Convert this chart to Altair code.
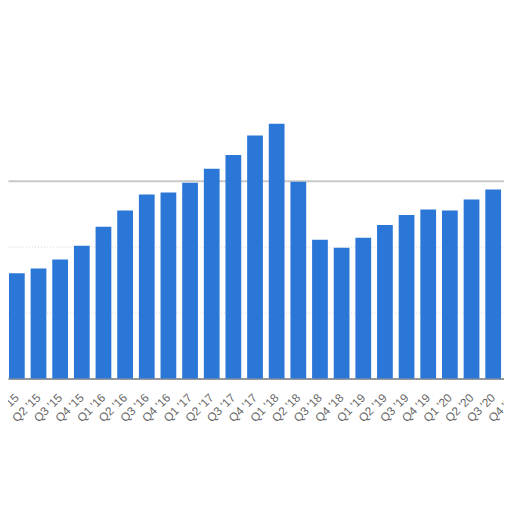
import altair as alt
import pandas as pd

quarters = ["Q1 '15", "Q2 '15", "Q3 '15", "Q4 '15",
            "Q1 '16", "Q2 '16", "Q3 '16", "Q4 '16",
            "Q1 '17", "Q2 '17", "Q3 '17", "Q4 '17",
            "Q1 '18", "Q2 '18", "Q3 '18", "Q4 '18",
            "Q1 '19", "Q2 '19", "Q3 '19", "Q4 '19",
            "Q1 '20", "Q2 '20", "Q3 '20", "Q4 '20"]
values = [31.9, 33.4, 36.1, 40.3,
          46.0, 51.0, 55.8, 56.4,
          59.4, 63.6, 67.8, 73.7,
          77.3, 59.7, 42.1, 39.7,
          42.7, 46.6, 49.6, 51.3,
          51.0, 54.3, 57.3, 60.0]
grid_values = [0, 20, 40, 60]

df = pd.DataFrame({"quarter": quarters, "value": values})

chart = alt.Chart(df).mark_bar(color="#2b77d8").encode(
    x=alt.X("quarter:N", sort=quarters, title=None,
            scale=alt.Scale(range=[0, 524], paddingInner=0.2727, paddingOuter=0.0455),
            axis=alt.Axis(labelAngle=-45, labelAlign="right", labelBaseline="middle",
                          labelPadding=17, ticks=False, tickSize=0,
                          labelFont="Liberation Sans", labelFontSize=12,
                          labelColor="#666666", domainColor="#333333",
                          domainWidth=1, labelOverlap=False, labelBound=False)),
    y=alt.Y("value:Q", title=None,
            scale=alt.Scale(domain=[0, 80], nice=False),
            axis=alt.Axis(values=grid_values, labels=False, ticks=False, domain=False,
                          grid=True,
                          gridColor=alt.condition("datum.value == 60", alt.value("#c8c8c8"), alt.value("#d6d6d6")),
                          gridWidth=alt.condition("datum.value == 60", alt.value(2), alt.value(1)),
                          gridDash=alt.condition("datum.value == 60", alt.value([]), alt.value([1, 2])))),
).properties(
    width=504, height=268,
    autosize=alt.AutoSizeParams(type="none"),
    padding={"left": 0, "right": 0, "top": 105, "bottom": 60},
).configure_view(stroke=None)

chart.save("out.html", embed_options={"renderer": "svg", "actions": False})
